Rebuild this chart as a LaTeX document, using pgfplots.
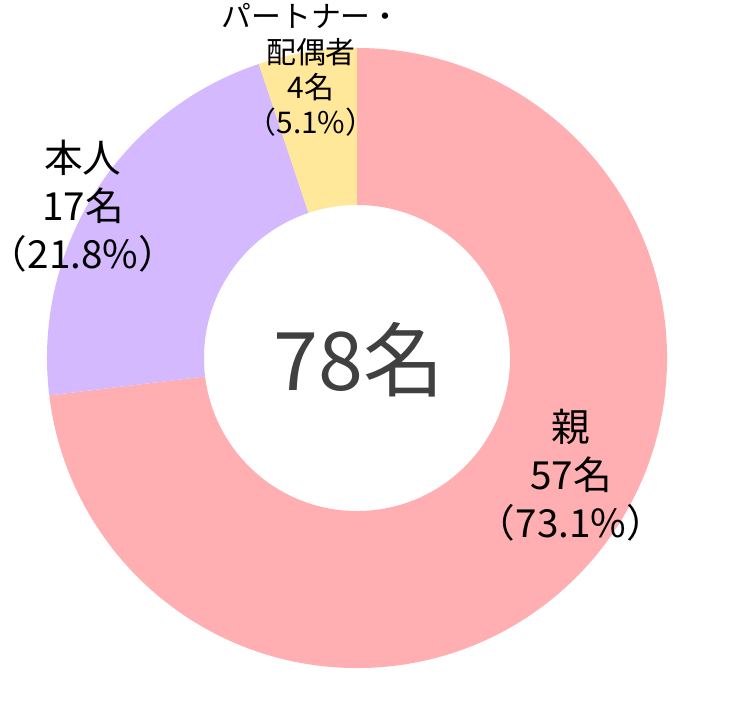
\documentclass[border=0pt]{standalone}
\usepackage{pgfplots}
\usepackage{pgfplotstable}
\pgfplotsset{compat=1.18}
\usepackage{fontspec}
\newfontfamily\cjk{Noto Sans CJK JP}
\definecolor{pinkc}{HTML}{FFAFB1}
\definecolor{lavc}{HTML}{D5B9FF}
\definecolor{yelc}{HTML}{FFE89A}
\definecolor{ctxt}{HTML}{404040}
\pgfplotstableread{
label value
parent 57
self 17
partner 4
}\datatable
\newcommand\slice[3]{%
  \fill[#3] (axis cs:{357+310*cos(#1)},{366+310*sin(#1)})
    arc[start angle=#1, end angle=#2, radius=3.1cm]
    -- (axis cs:{357+153*cos(#2)},{366+153*sin(#2)})
    arc[start angle=#2, end angle=#1, radius=1.53cm] -- cycle;}
\begin{document}
\begin{tikzpicture}
\pgfplotstablegetelem{0}{value}\of\datatable \pgfmathsetmacro\va{\pgfplotsretval}
\pgfplotstablegetelem{1}{value}\of\datatable \pgfmathsetmacro\vb{\pgfplotsretval}
\pgfplotstablegetelem{2}{value}\of\datatable \pgfmathsetmacro\vc{\pgfplotsretval}
\pgfmathsetmacro\tot{\va+\vb+\vc}
\pgfmathsetmacro\aA{90}
\pgfmathsetmacro\aB{90-360*(\va/\tot)}
\pgfmathsetmacro\aC{\aB-360*(\vb/\tot)}
\pgfmathsetmacro\aD{\aC-360*(\vc/\tot)}
\begin{axis}[
  scale only axis, width=7.4cm, height=7.24cm,
  xmin=0, xmax=740, ymin=0, ymax=724,
  hide axis, clip=false]
\slice{\aA}{\aB}{pinkc}
\slice{\aB}{\aC}{lavc}
\slice{\aC}{\aD}{yelc}
\node[font=\cjk\fontsize{23pt}{26pt}\selectfont, text=ctxt, inner sep=0] at (axis cs:359,364) {78名};
\node[font=\cjk\fontsize{11pt}{13.7pt}\selectfont, align=center, inner sep=0] at (axis cs:571,249) {親\\57名\\（73.1\%）};
\node[font=\cjk\fontsize{11pt}{13.7pt}\selectfont, align=center, inner sep=0] at (axis cs:83,518) {本人\\17名\\（21.8\%）};
\node[font=\cjk\fontsize{8.5pt}{10pt}\selectfont, align=center, inner sep=0] at (axis cs:311,654) {パートナー・\\配偶者\\4名\\（5.1\%）};
\end{axis}
\pgfresetboundingbox
\path (current axis.south west) rectangle (current axis.north east);
\end{tikzpicture}
\end{document}
